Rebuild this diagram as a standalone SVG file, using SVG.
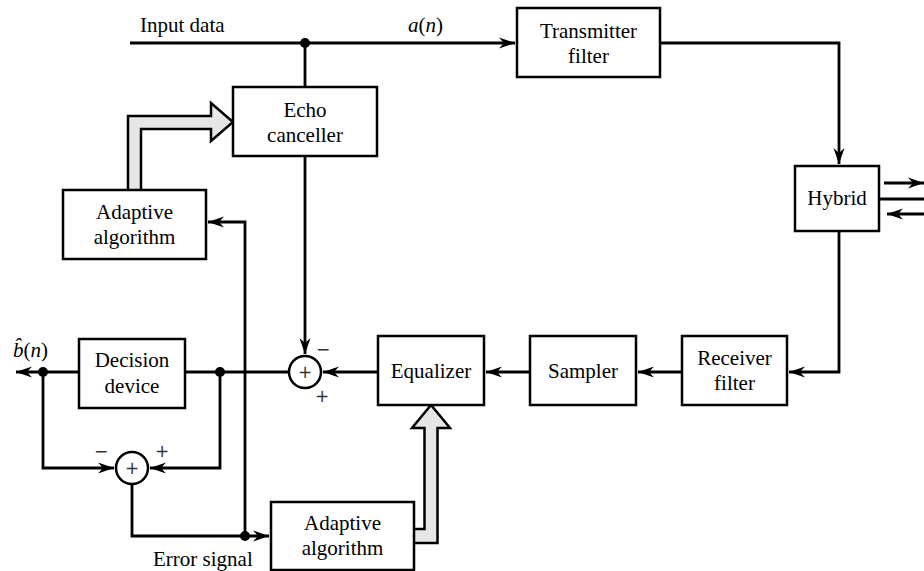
<svg xmlns="http://www.w3.org/2000/svg" width="924" height="571" viewBox="0 0 924 571">
<style>
.box{fill:#fff;stroke:#000;stroke-width:2.5}
.ln{fill:none;stroke:#000;stroke-width:2.8;stroke-linejoin:miter}
.hol{fill:#e6e6e6;stroke:#000;stroke-width:2.5;stroke-linejoin:miter}
.t{font-family:"Liberation Serif","Times New Roman",serif;font-size:21px;fill:#000;text-anchor:middle}
.l{font-family:"Liberation Serif","Times New Roman",serif;font-size:21px;fill:#000}
.sg{font-family:"DejaVu Sans",sans-serif;font-size:17px;fill:#333;text-anchor:middle}
.sum{fill:#fff;stroke:#000;stroke-width:2.5}
</style>
<defs>
<marker id="ah" markerUnits="userSpaceOnUse" markerWidth="20" markerHeight="14" viewBox="-17 -7 18 14" refX="0" refY="0" orient="auto">
<path d="M0,0 L-16,-5.5 L-11,0 L-16,5.5 Z" fill="#000"/>
</marker>
</defs>

<g id="connectors">
<path class="ln" d="M130,43 H515" marker-end="url(#ah)"/>
<path class="ln" d="M305,43 V87"/>
<path class="ln" d="M305,156 V354" marker-end="url(#ah)"/>
<path class="ln" d="M660,43 H839 V164" marker-end="url(#ah)"/>
<path class="ln" d="M839,231 V372 H789" marker-end="url(#ah)"/>
<path class="ln" d="M682,372 H638" marker-end="url(#ah)"/>
<path class="ln" d="M530,372 H486" marker-end="url(#ah)"/>
<path class="ln" d="M378,372 H323" marker-end="url(#ah)"/>
<path class="ln" d="M289,372 H185"/>
<path class="ln" d="M79,372 H16" marker-end="url(#ah)"/>
<path class="ln" d="M43,372 V468 H114" marker-end="url(#ah)"/>
<path class="ln" d="M220,372 V468 H150" marker-end="url(#ah)"/>
<path class="ln" d="M132,484 V536 H269" marker-end="url(#ah)"/>
<path class="ln" d="M245,536 V222 H208" marker-end="url(#ah)"/>
<path class="ln" d="M884,183 H924" marker-end="url(#ah)"/>
<path class="ln" d="M879,199 H924"/>
<path class="ln" d="M924,214 H887" marker-end="url(#ah)"/>
<circle cx="305" cy="43" r="5"/>
<circle cx="220" cy="372" r="5"/>
<circle cx="43" cy="372" r="5"/>
<circle cx="245" cy="536" r="5"/>
<path class="hol" d="M128,190 V116 H211 V103 L233,122 L211,141 V129 H141 V190"/>
<path class="hol" d="M414,529 H424.5 V428 H412 L431,405 L450,428 H437.5 V543 H414"/>
</g>

<text class="l" x="140" y="32">Input data</text>
<text class="l" x="408" y="32"><tspan font-style="italic">a</tspan>(<tspan font-style="italic">n</tspan>)</text>
<text class="l" x="153" y="566">Error signal</text>
<text class="l" x="13" y="357"><tspan font-style="italic">b̂</tspan>(<tspan font-style="italic">n</tspan>)</text>

<g id="transmitter">
<rect class="box" x="517" y="8" width="143" height="69"/>
<text class="t" x="588.5" y="38">Transmitter</text>
<text class="t" x="588.5" y="63">filter</text>
</g>
<g id="echo">
<rect class="box" x="233" y="87" width="144" height="69"/>
<text class="t" x="305" y="117">Echo</text>
<text class="t" x="305" y="142">canceller</text>
</g>
<g id="adaptive1">
<rect class="box" x="63" y="190" width="143" height="69"/>
<text class="t" x="134.5" y="219">Adaptive</text>
<text class="t" x="134.5" y="244">algorithm</text>
</g>
<g id="hybrid">
<rect class="box" x="795" y="166" width="84" height="65"/>
<text class="t" x="837" y="205">Hybrid</text>
</g>
<g id="receiver">
<rect class="box" x="682" y="336" width="105" height="69"/>
<text class="t" x="734.5" y="365">Receiver</text>
<text class="t" x="734.5" y="390">filter</text>
</g>
<g id="sampler">
<rect class="box" x="530" y="336" width="106" height="69"/>
<text class="t" x="583" y="378">Sampler</text>
</g>
<g id="equalizer">
<rect class="box" x="378" y="336" width="106" height="69"/>
<text class="t" x="431" y="378">Equalizer</text>
</g>
<g id="sum1">
<circle class="sum" cx="305" cy="372" r="16"/>
<text class="sg" x="305" y="378">+</text>
<text class="sg" x="323" y="355">−</text>
<text class="sg" x="322" y="402">+</text>
</g>
<g id="decision">
<rect class="box" x="79" y="339" width="106" height="69"/>
<text class="t" x="132" y="367">Decision</text>
<text class="t" x="132" y="393">device</text>
</g>
<g id="sum2">
<circle class="sum" cx="132" cy="468" r="16"/>
<text class="sg" x="132" y="474">+</text>
<text class="sg" x="101" y="457">−</text>
<text class="sg" x="162" y="457">+</text>
</g>
<g id="adaptive2">
<rect class="box" x="271" y="502" width="143" height="68"/>
<text class="t" x="342.5" y="530">Adaptive</text>
<text class="t" x="342.5" y="555">algorithm</text>
</g>
</svg>
